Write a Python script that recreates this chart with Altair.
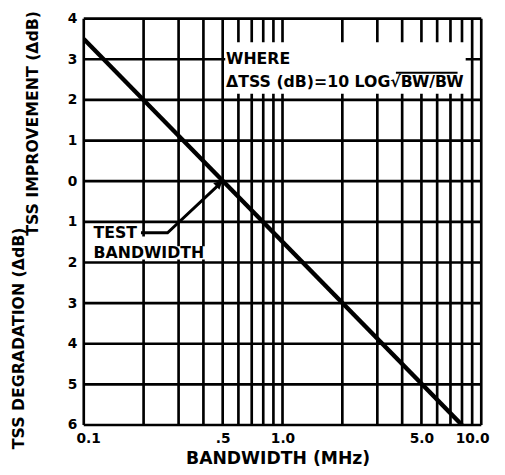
import altair as alt
import pandas as pd

# ---- main curve ----
bw = [0.1, 8.0]
delta_db = [3.5, -6.0]

# ---- grid / tick values ----
x_grid = [0.1, 0.2, 0.3, 0.4, 0.5, 0.6, 0.7, 0.8, 0.9,
          1, 2, 3, 4, 5, 6, 7, 8, 9, 10]
y_grid = [-6, -5, -4, -3, -2, -1, 0, 1, 2, 3, 4]
x_label_values = [0.1, 0.5, 1, 5, 10]
x_label_text = ["0.1", ".5", "1.0", "5.0", "10.0"]

# ---- annotation content ----
note_text = ["WHERE", "\u0394TSS (dB)=10 LOG\u221aBW/BW", "TEST", "BANDWIDTH"]
note_x = [0.52, 0.52, 0.112, 0.112]
note_y = [3.0, 2.45, -1.27, -1.76]

box_x0 = [0.515, 0.105, 0.19, 0.105]
box_x1 = [8.35, 0.19, 0.215, 0.42]
box_y0 = [3.42, -1.1, -1.36, -1.6]
box_y1 = [2.15, -1.6, -1.6, -1.93]

arrow_x = [0.194, 0.264, 0.5]
arrow_y = [-1.27, -1.27, 0.0]
arrow_order = [0, 1, 2]
head_x = [0.4805]
head_y = [-0.06]

overline_x = [3.72, 7.6]
overline_y = [2.67, 2.67]

y_title_top = "TSS IMPROVEMENT (\u0394dB)"
y_title_bottom = "TSS DEGRADATION (\u0394dB)"
x_title = "BANDWIDTH (MHz)"

FONT = "DejaVu Sans"

label_expr = " : ".join(
    f"datum.value == {v} ? '{t}'" for v, t in zip(x_label_values, x_label_text)
) + " : ''"

xscale = alt.Scale(type="log", domain=[0.1, 10], nice=False)
yscale = alt.Scale(domain=[-6, 4], nice=False)

x_axis = alt.Axis(
    values=x_label_values,
    grid=False,
    ticks=False,
    domain=False,
    labelExpr=label_expr,
    labelOverlap=False,
    labelFlush=True,
    labelFlushOffset=8,
    labelFont=FONT,
    labelFontSize=14,
    labelFontWeight="bold",
    labelColor="black",
    labelPadding=7,
    title=x_title,
    titleFont=FONT,
    titleFontSize=17.5,
    titleFontWeight="bold",
    titleColor="black",
    titleX=197,
    titleY=34,
    titleBaseline="middle",
    titleAlign="center",
)

y_axis = alt.Axis(
    values=y_grid,
    grid=False,
    ticks=False,
    domain=False,
    labelExpr="'' + abs(datum.value)",
    labelOverlap=False,
    labelFont=FONT,
    labelFontSize=14,
    labelFontWeight="bold",
    labelColor="black",
    labelPadding=7,
    title=y_title_top,
    titleFont=FONT,
    titleFontSize=16,
    titleFontWeight="bold",
    titleColor="black",
    titleAngle=270,
    titleX=-52,
    titleY=106,
    titleBaseline="middle",
    titleAlign="center",
)


def X(field):
    return alt.X(field, scale=xscale, axis=x_axis)


def Y(field):
    return alt.Y(field, scale=yscale, axis=y_axis)


vgrid = alt.Chart(pd.DataFrame({"g": x_grid})).mark_rule(
    color="black", strokeWidth=2.7
).encode(x=X("g:Q"))

hgrid = alt.Chart(pd.DataFrame({"g": y_grid})).mark_rule(
    color="black", strokeWidth=2.7
).encode(y=Y("g:Q"))

boxes = alt.Chart(
    pd.DataFrame({"x0": box_x0, "x1": box_x1, "y0": box_y0, "y1": box_y1})
).mark_rect(color="white", opacity=1).encode(
    x=X("x0:Q"),
    x2="x1:Q",
    y=Y("y0:Q"),
    y2="y1:Q",
)

line = alt.Chart(pd.DataFrame({"bw": bw, "db": delta_db})).mark_line(
    color="black", strokeWidth=4.5, clip=True
).encode(x=X("bw:Q"), y=Y("db:Q"))

notes = alt.Chart(
    pd.DataFrame({"t": note_text, "x": note_x, "y": note_y})
).mark_text(
    align="left", baseline="middle", font=FONT, fontSize=16,
    fontWeight="bold", color="black"
).encode(x=X("x:Q"), y=Y("y:Q"), text="t:N")

arrow = alt.Chart(
    pd.DataFrame({"x": arrow_x, "y": arrow_y, "o": arrow_order})
).mark_line(color="black", strokeWidth=3).encode(
    x=X("x:Q"), y=Y("y:Q"), order="o:Q"
)

head = alt.Chart(pd.DataFrame({"x": head_x, "y": head_y})).mark_point(
    shape="triangle-up", filled=True, color="black", size=90, angle=47, opacity=1
).encode(x=X("x:Q"), y=Y("y:Q"))

overline = alt.Chart(pd.DataFrame({"x": overline_x, "y": overline_y})).mark_line(
    color="black", strokeWidth=2
).encode(x=X("x:Q"), y=Y("y:Q"))

ytitle2 = alt.Chart(pd.DataFrame({"t": [y_title_bottom]})).mark_text(
    angle=270, align="center", baseline="middle", font=FONT, fontSize=16,
    fontWeight="bold", color="black"
).encode(x=alt.value(-66), y=alt.value(325), text="t:N")

chart = (
    alt.layer(vgrid, hgrid, boxes, line, arrow, head, overline, notes, ytitle2)
    .properties(
        width=404,
        height=413,
        autosize=alt.AutoSizeParams(type="none"),
        padding={"left": 77, "top": 7, "right": 16, "bottom": 47},
    )
    .configure_view(stroke="black", strokeWidth=4)
    .configure(background="white")
)

chart.save("out.html", embed_options={"renderer": "svg", "actions": False})
